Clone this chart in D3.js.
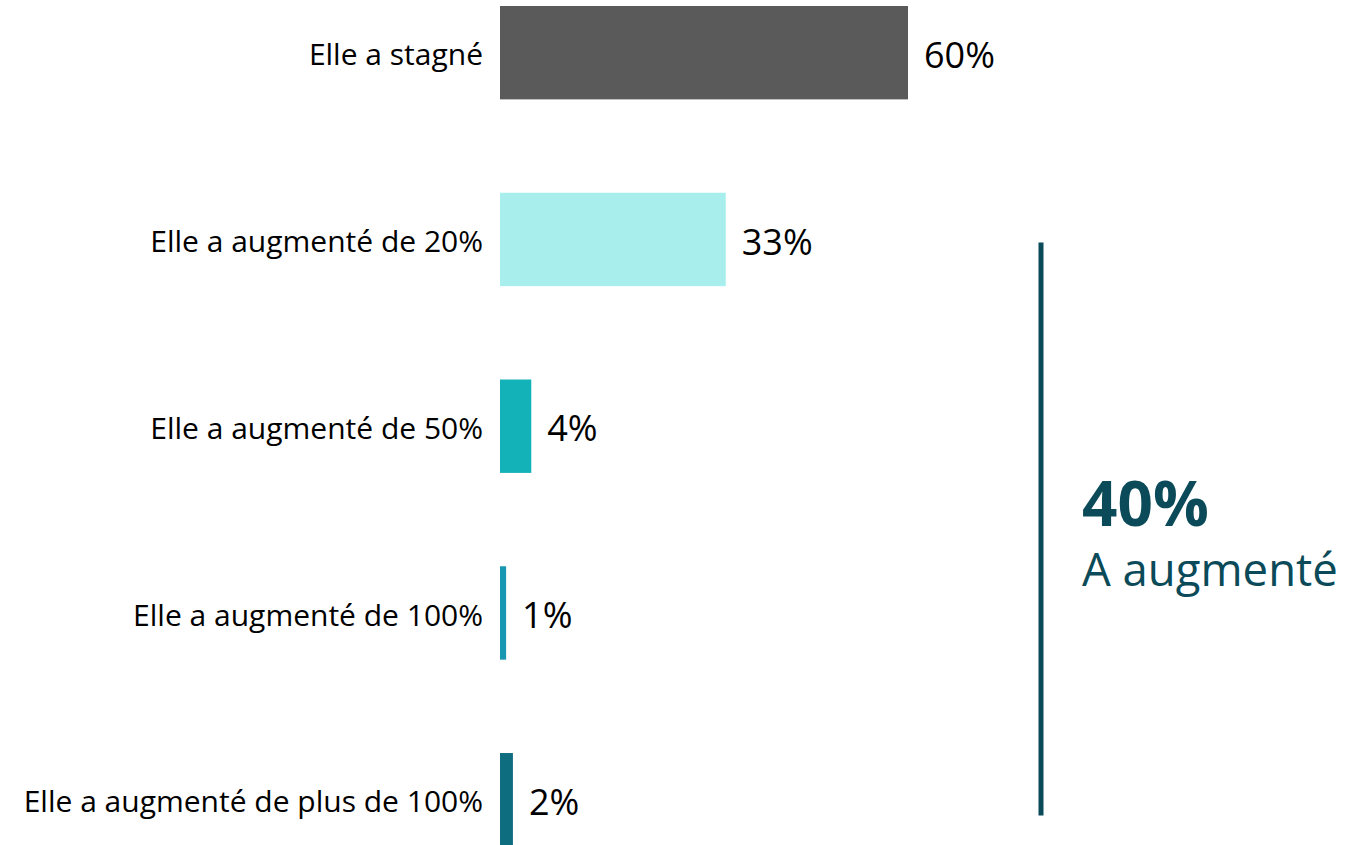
<!DOCTYPE html>
<html>
<head>
<meta charset="utf-8">
<script src="https://cdn.jsdelivr.net/npm/d3@7"></script>
<style>
    body { margin: 0; background: #fff; }
    text { font-family: "Open Sans", "Noto Sans", sans-serif; }
</style>
</head>
<body>
<div id="chart1"></div>
<script>
'use strict';

// Data
const categories = [
    'Elle a stagné',
    'Elle a augmenté de 20%',
    'Elle a augmenté de 50%',
    'Elle a augmenté de 100%',
    'Elle a augmenté de plus de 100%'
];
const values = [60, 33.2, 4.6, 0.9, 1.9];
const valueLabels = ['60%', '33%', '4%', '1%', '2%'];
const barColors = ['#5a5a5a', '#a8eeed', '#13b1b8', '#1797b0', '#0f6d80'];
const totalLabel = '40%';
const totalText = 'A augmenté';

/* `````````````````````````````````\```````````````````````\
    Class: Bars                     |                       |
 ``````````````````````````````````/``````````````````````*/
class Bars {

    /*
    Constructor
    */
    constructor(_parent) {
        this.parent = _parent;
        this.initVis();
    }

    /*
    initVis
    */
    initVis() {
        const vis = this;

        // Config svg
        vis.w = 1347;
        vis.h = 845;

        vis.svg = d3.select(`#${vis.parent}`)
            .append('svg')
            .attr('width', vis.w)
            .attr('height', vis.h);

        // Scales
        vis.x = d3.scaleLinear()
            .domain([0, 60])
            .range([500, 908]);

        vis.y = d3.scaleBand()
            .domain(categories)
            .range([6, 846.4])
            .paddingInner(0.5)
            .paddingOuter(0);

        vis.g = vis.svg.append('g');

        vis.updateVis();
    }

    /*
    updateVis
    */
    updateVis() {
        const vis = this;
        const rows = categories.map((c, i) => ({cat: c, v: values[i], lab: valueLabels[i], col: barColors[i]}));
        const bw = vis.y.bandwidth();

        // Bars
        vis.g.selectAll('.bar')
            .data(rows)
            .join('rect')
            .attr('class', 'bar')
            .attr('x', vis.x(0))
            .attr('y', d => vis.y(d.cat))
            .attr('width', d => vis.x(d.v) - vis.x(0))
            .attr('height', bw)
            .attr('fill', d => d.col);

        // Category labels
        vis.g.selectAll('.catLabel')
            .data(rows)
            .join('text')
            .attr('class', 'catLabel')
            .attr('x', vis.x(0) - 17)
            .attr('y', d => vis.y(d.cat) + bw / 2)
            .attr('dy', '0.42em')
            .attr('text-anchor', 'end')
            .attr('font-size', 30)
            .attr('fill', '#000')
            .text(d => d.cat);

        // Value labels
        vis.g.selectAll('.valLabel')
            .data(rows)
            .join('text')
            .attr('class', 'valLabel')
            .attr('x', d => vis.x(d.v) + 16)
            .attr('y', d => vis.y(d.cat) + bw / 2)
            .attr('dy', '0.42em')
            .attr('font-size', 36)
            .attr('fill', '#000')
            .text(d => d.lab);

        // Bracket line for the "increased" group
        const y1 = vis.y(categories[1]) + bw / 2 + 3;
        const y2 = vis.y(categories[4]) + bw * 0.67;
        vis.g.append('line')
            .attr('x1', 1041)
            .attr('x2', 1041)
            .attr('y1', y1)
            .attr('y2', y2)
            .attr('stroke', '#0b4a58')
            .attr('stroke-width', 5);

        // Total annotation
        vis.g.append('text')
            .attr('x', 1082)
            .attr('y', 526)
            .attr('font-size', 62)
            .attr('font-weight', 700)
            .attr('fill', '#0b4a58')
            .text(totalLabel);

        vis.g.append('text')
            .attr('x', 1082)
            .attr('y', 586)
            .attr('font-size', 45.5)
            .attr('fill', '#0b4a58')
            .text(totalText);
    }
}

new Bars('chart1');
</script>
</body>
</html>
